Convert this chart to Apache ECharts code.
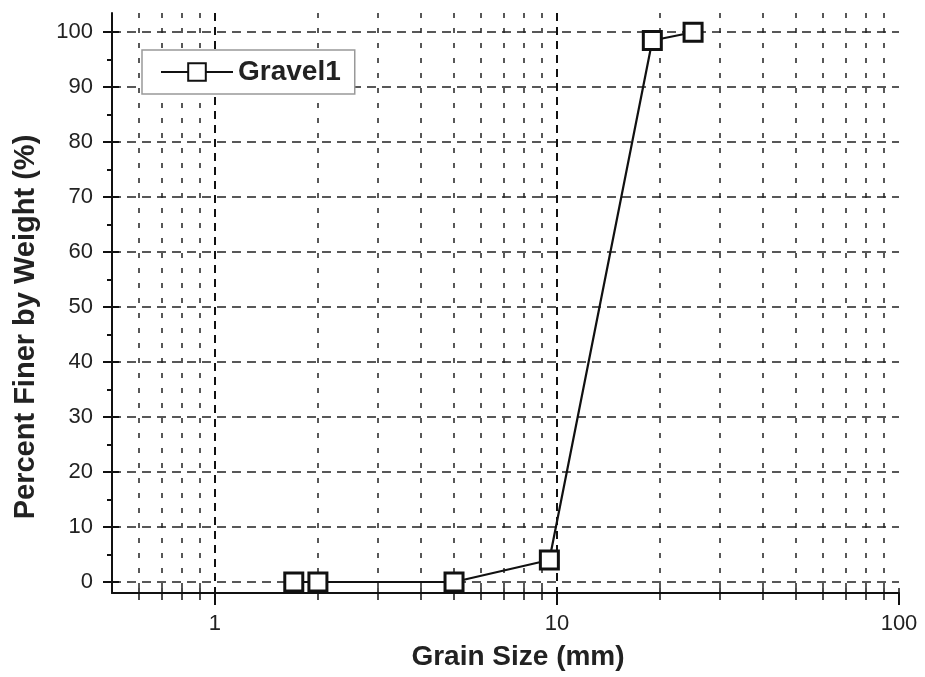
<!DOCTYPE html>
<html>
<head>
<meta charset="utf-8">
<script src="https://cdn.jsdelivr.net/npm/echarts@6/dist/echarts.min.js"></script>
<style>html,body{margin:0;padding:0;background:#fff;}#c{width:925px;height:677px;}</style>
</head>
<body>
<div id="c"></div>
<script>
const seriesName = 'Gravel1';
const grainSize = [1.7, 2.0, 5.0, 9.5, 19, 25];
const percentFiner = [0, 0, 0, 4, 98.5, 100];
const xLabelValues = [1, 10, 100];
const xGridValues = [0.6, 0.7, 0.8, 0.9, 2, 3, 4, 5, 6, 7, 8, 9, 20, 30, 40, 50, 60, 70, 80, 90];
const xAllTickValues = [0.6, 0.7, 0.8, 0.9, 1, 2, 3, 4, 5, 6, 7, 8, 9, 10, 20, 30, 40, 50, 60, 70, 80, 90, 100];
const yLabelValues = [0, 10, 20, 30, 40, 50, 60, 70, 80, 90, 100];
const yMinorValues = [5, 15, 25, 35, 45, 55, 65, 75, 85, 95];

const chart = echarts.init(document.getElementById('c'), null, {renderer: 'canvas'});
const txt = '#222';
const font = 'Liberation Sans, Arial, sans-serif';
const hiddenX = {type: 'log', logBase: 10, min: 0.5, max: 100, position: 'bottom',
  axisLine: {show: false, onZero: false}, axisLabel: {show: false}, splitLine: {show: false}};
const hiddenY = {type: 'value', min: -2, max: 103.5, position: 'left',
  axisLine: {show: false}, axisLabel: {show: false}, splitLine: {show: false}};
chart.setOption({
  animation: false,
  backgroundColor: '#fff',
  grid: {left: 112, right: 26, top: 13, bottom: 84, containLabel: false},
  legend: {
    left: 142, top: 50, orient: 'vertical',
    backgroundColor: '#fff', borderColor: '#999', borderWidth: 1.5, borderRadius: 0,
    padding: [8, 14, 8, 18],
    itemWidth: 72, itemHeight: 22, itemGap: 0,
    textStyle: {fontFamily: font, fontWeight: 'bold', fontSize: 28, color: txt},
    data: [seriesName]
  },
  xAxis: [{
    type: 'log', logBase: 10, min: 0.5, max: 100, position: 'bottom',
    name: 'Grain Size (mm)', nameLocation: 'middle', nameGap: 50,
    nameTextStyle: {fontFamily: font, fontWeight: 'bold', fontSize: 28, color: txt, padding: [0, 0, 0, 25]},
    axisLine: {show: true, onZero: false, lineStyle: {color: '#111', width: 2}},
    axisTick: {show: true, inside: false, length: 7, customValues: xGridValues, lineStyle: {color: '#111', width: 1.5}},
    axisLabel: {customValues: xLabelValues, margin: 20, fontFamily: font, fontSize: 22, color: txt,
      formatter: v => String(Math.round(v))},
    splitLine: {show: true, lineStyle: {color: '#222', width: 1.5, type: [5, 10]}},
    minorTick: {show: false}, minorSplitLine: {show: false}
  }, Object.assign({}, hiddenX, {
    axisTick: {show: true, inside: true, length: 5, customValues: xAllTickValues, lineStyle: {color: '#111', width: 1.5}}
  }), Object.assign({}, hiddenX, {
    axisTick: {show: true, inside: false, length: 12, customValues: xLabelValues, lineStyle: {color: '#111', width: 2}},
    splitLine: {show: true, showMaxLine: false, lineStyle: {color: '#111', width: 2, type: [8, 6]}}
  })],
  yAxis: [{
    type: 'value', min: -2, max: 103.5,
    name: 'Percent Finer by Weight (%)', nameLocation: 'middle', nameGap: 72,
    nameTextStyle: {fontFamily: font, fontWeight: 'bold', fontSize: 29, color: txt, padding: [0, 48, 0, 0]},
    axisLine: {show: true, lineStyle: {color: '#111', width: 2}},
    axisTick: {show: true, inside: false, length: 9, customValues: yLabelValues, lineStyle: {color: '#111', width: 2}},
    axisLabel: {customValues: yLabelValues, margin: 19, fontFamily: font, fontSize: 22, color: txt},
    splitLine: {show: true, lineStyle: {color: '#222', width: 1.5, type: [9, 6]}}
  }, Object.assign({}, hiddenY, {
    axisTick: {show: true, inside: false, length: 5, customValues: yMinorValues, lineStyle: {color: '#111', width: 2}}
  }), Object.assign({}, hiddenY, {
    axisTick: {show: true, inside: true, length: 7, customValues: yLabelValues, lineStyle: {color: '#111', width: 2}}
  })],
  series: [{
    name: seriesName, type: 'line',
    xAxisIndex: 0, yAxisIndex: 0,
    data: grainSize.map((g, i) => [g, percentFiner[i]]),
    symbol: 'rect', symbolSize: 18, showAllSymbol: true,
    itemStyle: {color: '#fff', borderColor: '#111', borderWidth: 3},
    lineStyle: {color: '#111', width: 2.2},
    z: 5
  }]
});
</script>
</body>
</html>
